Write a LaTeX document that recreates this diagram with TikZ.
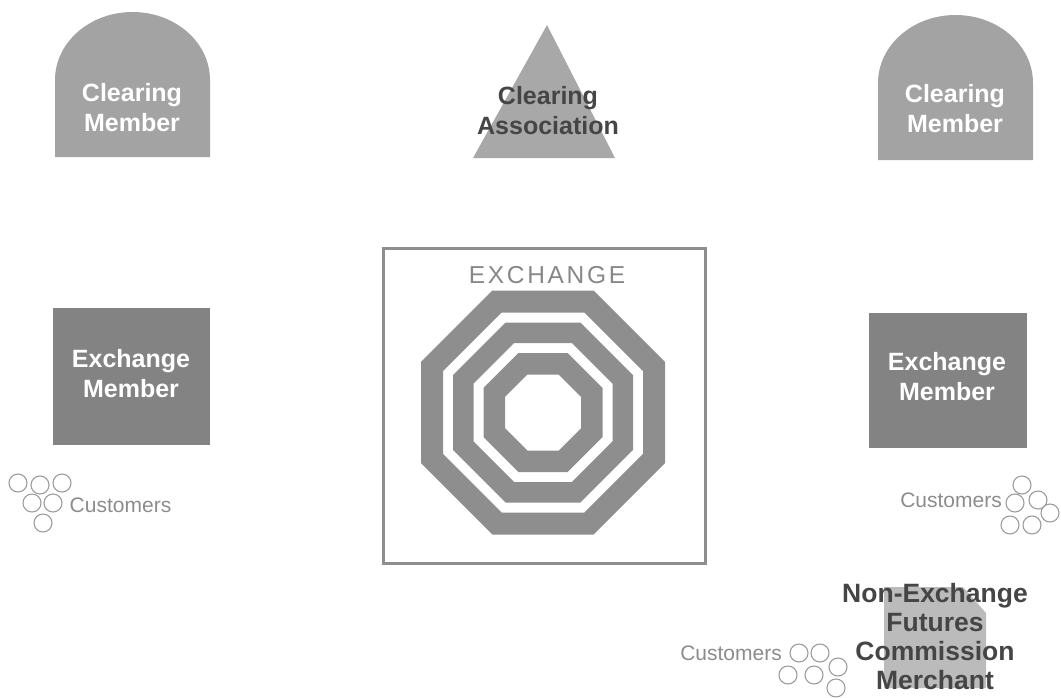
\documentclass[tikz,border=0pt]{standalone}
\usepackage{fontspec}
\setmainfont{Liberation Sans}
\definecolor{cmgray}{HTML}{A3A3A3}
\definecolor{trigray}{HTML}{A8A8A8}
\definecolor{emgray}{HTML}{838383}
\definecolor{octgray}{HTML}{8E8E8E}
\definecolor{nfgray}{HTML}{BBBBBB}
\definecolor{dtext}{HTML}{454545}
\definecolor{ctext}{HTML}{8C8C8C}
\newcommand\myoct[3]{({#1+#3},{#2-0.41421*#3}) -- ({#1+#3},{#2+0.41421*#3}) -- ({#1+0.41421*#3},{#2+#3}) -- ({#1-0.41421*#3},{#2+#3}) -- ({#1-#3},{#2+0.41421*#3}) -- ({#1-#3},{#2-0.41421*#3}) -- ({#1-0.41421*#3},{#2-#3}) -- ({#1+0.41421*#3},{#2-#3}) -- cycle}
\begin{document}
\begin{tikzpicture}[x=1pt,y=-1pt,
  boldlabel/.style={align=center,font=\fontsize{25}{30}\selectfont\bfseries,inner sep=0pt},
  whitelabel/.style={boldlabel,text=white},
  darklabel/.style={boldlabel,text=dtext},
  custtext/.style={font=\fontsize{21}{25}\selectfont,text=ctext,inner sep=0pt},
  custcircle/.style={draw=ctext!85,line width=1.1pt}]
\useasboundingbox (0,0) rectangle (1061,697);
% Clearing members
\fill[cmgray] (55,157) -- (55,80) arc[start angle=180,end angle=0,x radius=77.5pt,y radius=68pt] -- (210,157) -- cycle;
\fill[cmgray] (878,160) -- (878,83) arc[start angle=180,end angle=0,x radius=77.5pt,y radius=68pt] -- (1033,160) -- cycle;
\node[whitelabel] (cm1) at (132,108) {Clearing\\Member};
\node[whitelabel] (cm2) at (955,109) {Clearing\\Member};
% Clearing association
\fill[trigray] (547,25) -- (615,158) -- (473,158) -- cycle;
\node[darklabel] (ca) at (548,111) {Clearing\\Association};
% Exchange
\draw[octgray,line width=3pt] (383,248) rectangle (705,563);
\node[font=\fontsize{24.5}{28}\selectfont\addfontfeature{LetterSpace=11},text=octgray!95!black,inner sep=0pt] (ex) at (547,275) {EXCHANGE};
\fill[octgray,even odd rule] \myoct{543}{412.5}{122} \myoct{543}{412.5}{100};
\fill[octgray,even odd rule] \myoct{543}{412.5}{90} \myoct{543}{412.5}{69.5};
\fill[octgray,even odd rule] \myoct{543}{412.5}{59.5} \myoct{543}{412.5}{38};
% Exchange members
\fill[emgray] (53,308) rectangle (210,445);
\node[whitelabel] (em1) at (131,374) {Exchange\\Member};
\fill[emgray] (869,313) rectangle (1027,448);
\node[whitelabel] (em2) at (947,377) {Exchange\\Member};
% Customers left
\foreach \p in {(18,483),(40,485),(62,483),(32,503),(53,503),(43,523)} \draw[custcircle] \p circle (9pt);
\node[custtext] (cu1) at (120.5,505) {Customers};
% Customers right
\foreach \p in {(1022,485),(1038,500),(1015,503),(1050,513),(1010,525),(1032,525)} \draw[custcircle] \p circle (9pt);
\node[custtext,anchor=east] (cu2) at (1002,500) {Customers};
% NFCM
\fill[nfgray] (884,688) -- (884,587) -- (963,587) -- (986,613) -- (986,688) -- cycle;
\node[boldlabel,text=dtext,font=\fontsize{26.5}{29}\selectfont\bfseries] (nf) at (935,637) {Non-Exchange\\Futures\\Commission\\Merchant};
\foreach \p in {(799,653),(820,653),(838,667),(788,675),(814,675),(836,688)} \draw[custcircle] \p circle (9pt);
\node[custtext,anchor=east] (cu3) at (782,653) {Customers};
\end{tikzpicture}
\end{document}
